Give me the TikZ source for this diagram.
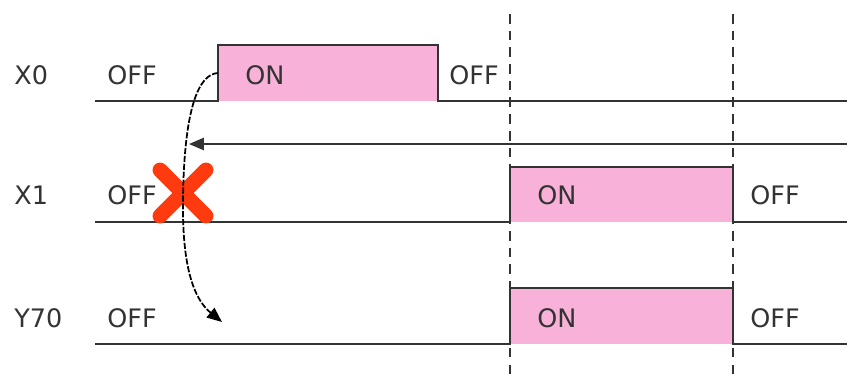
\documentclass[tikz,border=0pt]{standalone}
\usepackage{fontspec}
\setmainfont{DejaVu Sans}
\usetikzlibrary{arrows.meta}
\definecolor{pinkfill}{HTML}{F8B2D9}
\definecolor{ink}{HTML}{333333}
\definecolor{xred}{HTML}{FF3A0E}
\begin{document}
\begin{tikzpicture}[x=0.02cm,y=-0.02cm,
  lbl/.style={anchor=west,inner sep=0pt,text=ink,font=\fontsize{14.5}{16}\selectfont},
  wave/.style={draw=ink,line width=1.1pt,line join=miter},
  guide/.style={draw=ink,line width=0.9pt,dash pattern=on 5.5pt off 4pt},
  tip/.style={-{Triangle[length=8.5pt,width=7pt]}}]
\useasboundingbox (0,0) rectangle (847,380);
% pink boxes
\fill[pinkfill] (218,45) rectangle (438,101);
\fill[pinkfill] (510,167) rectangle (733,222);
\fill[pinkfill] (510,288) rectangle (733,344);
% dashed guides
\coordinate (g1t) at (510,14); \coordinate (g1b) at (510,380);
\coordinate (g2t) at (733,14); \coordinate (g2b) at (733,380);
\draw[guide] (g1t) -- (g1b);
\draw[guide] (g2t) -- (g2b);
% waveforms
\draw[wave] (95,101) -- (218,101) -- (218,45) -- (438,45) -- (438,101) -- (847,101);
\draw[wave] (95,222) -- (510,222) -- (510,167) -- (733,167) -- (733,222) -- (847,222);
\draw[wave] (95,344) -- (510,344) -- (510,288) -- (733,288) -- (733,344) -- (847,344);
% labels
\node[lbl] (nx0) at (14,75) {X0};
\node[lbl] (nx0off) at (107,75) {OFF};
\node[lbl] (nx0on) at (245,75) {ON};
\node[lbl] (nx0off2) at (449,75) {OFF};
\node[lbl] (nx1) at (14,195) {X1};
\node[lbl] (nx1off) at (107,195) {OFF};
\node[lbl] (nx1on) at (537,195) {ON};
\node[lbl] (nx1off2) at (750,195) {OFF};
\node[lbl] (ny) at (14,318) {Y70};
\node[lbl] (nyoff) at (107,318) {OFF};
\node[lbl] (nyon) at (537,318) {ON};
\node[lbl] (nyoff2) at (750,318) {OFF};
% red cross
\draw[xred,line width=8.5pt,line cap=round] (160,170) -- (206,216);
\draw[xred,line width=8.5pt,line cap=round] (206,170) -- (160,216);
% feedback arrow
\coordinate (fbs) at (847,144);
\coordinate (fbe) at (189,144);
\draw[ink,line width=1.1pt,tip] (fbs) -- (fbe);
% dashed curve
\coordinate (cs) at (218,73);
\coordinate (ce) at (222,322);
\draw[black,line width=1pt,dash pattern=on 3.5pt off 1pt,tip]
  (cs) .. controls (198,74) and (184,110) .. (183,200)
  .. controls (182,270) and (195,300) .. (ce);
\end{tikzpicture}
\end{document}
